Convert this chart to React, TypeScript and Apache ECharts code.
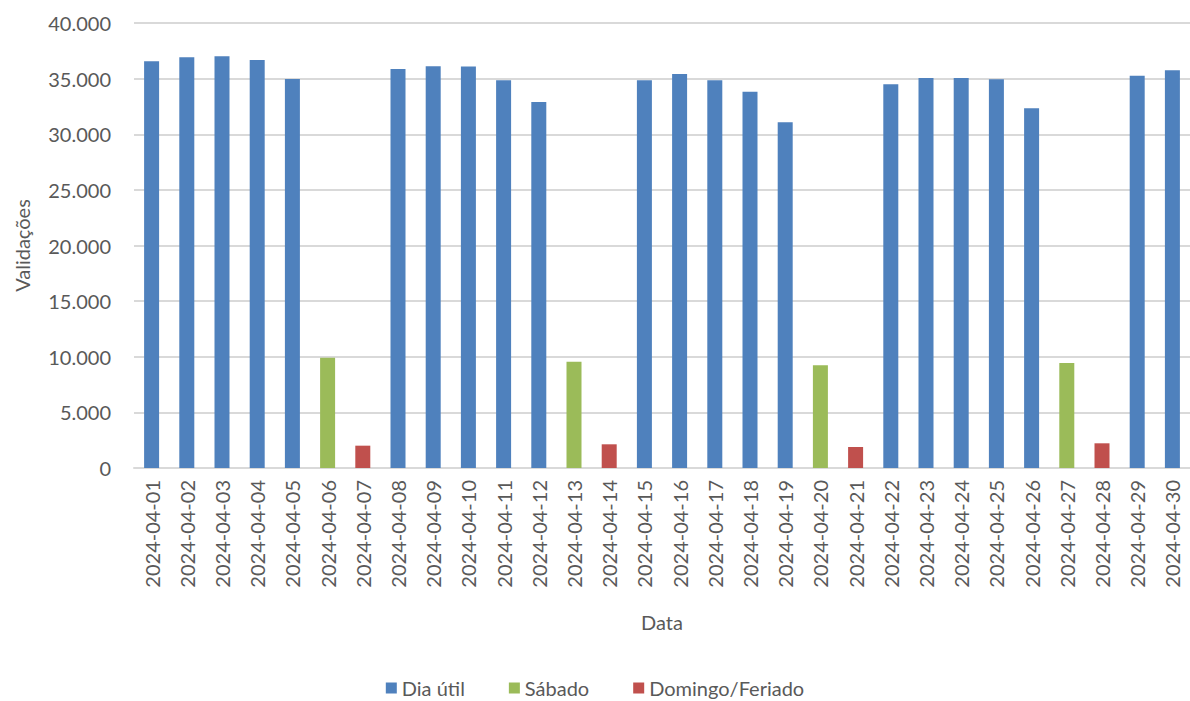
import React, { useEffect, useRef } from "react";
import * as echarts from "echarts";

const dias = [
  "2024-04-01", "2024-04-02", "2024-04-03", "2024-04-04", "2024-04-05", "2024-04-06",
  "2024-04-07", "2024-04-08", "2024-04-09", "2024-04-10", "2024-04-11", "2024-04-12",
  "2024-04-13", "2024-04-14", "2024-04-15", "2024-04-16", "2024-04-17", "2024-04-18",
  "2024-04-19", "2024-04-20", "2024-04-21", "2024-04-22", "2024-04-23", "2024-04-24",
  "2024-04-25", "2024-04-26", "2024-04-27", "2024-04-28", "2024-04-29", "2024-04-30",
];

const diaUtil = [
  36557, 36916, 37006, 36674, 34966, null, null, 35865, 36104, 36090, 34846, 32899,
  null, null, 34846, 35416, 34846, 33828, 31070, null, null, 34487, 35056, 35056,
  34936, 32330, null, null, 35266, 35745,
];

const sabado = [
  null, null, null, null, null, 9915, null, null, null, null, null, null,
  9555, null, null, null, null, null, null, 9230, null, null, null, null,
  null, null, 9438, null, null, null,
];

const domingoFeriado = [
  null, null, null, null, null, null, 2007, null, null, null, null, null,
  null, 2130, null, null, null, null, null, null, 1888, null, null, null,
  null, null, null, 2220, null, null,
];

const FONT = "Lato, 'Noto Sans', sans-serif";
const TXT = "#595959";

function fmt(v: number) {
  return String(v).replace(/\B(?=(\d{3})+(?!\d))/g, ".");
}

export default function App() {
  const ref = useRef<HTMLDivElement>(null);
  useEffect(() => {
    if (!ref.current) return;
    const chart = echarts.init(ref.current, undefined, { renderer: "svg" });
    const barCommon = { type: "bar", stack: "t", barWidth: 15 };
    chart.setOption({
      animation: false,
      textStyle: { fontFamily: FONT },
      grid: { left: 134, right: -5, top: 23, bottom: 233 },
      legend: {
        bottom: -2,
        left: "center",
        icon: "rect",
        itemWidth: 11,
        itemHeight: 11,
        itemGap: 44,
        textStyle: { color: TXT, fontSize: 20, fontFamily: FONT },
        data: ["Dia útil", "Sábado", "Domingo/Feriado"],
      },
      xAxis: {
        type: "category",
        data: dias,
        name: "Data",
        nameLocation: "middle",
        nameGap: 144,
        nameTextStyle: { color: TXT, fontSize: 20, fontFamily: FONT },
        axisLine: { show: true, lineStyle: { color: "#d9d9d9", width: 2 } },
        axisTick: { show: false },
        axisLabel: {
          rotate: 90,
          interval: 0,
          margin: 12,
          color: TXT,
          fontSize: 20,
          fontFamily: FONT,
        },
      },
      yAxis: {
        type: "value",
        min: 0,
        max: 40000,
        interval: 5000,
        name: "Validações",
        nameLocation: "middle",
        nameGap: 102,
        nameTextStyle: { color: TXT, fontSize: 20, fontFamily: FONT },
        axisLine: { show: false },
        axisTick: { show: false },
        splitLine: { lineStyle: { color: "#d9d9d9", width: 2 } },
        axisLabel: {
          margin: 23,
          color: TXT,
          fontSize: 20,
          fontFamily: FONT,
          formatter: (v: number) => fmt(v),
        },
      },
      series: [
        { ...barCommon, name: "Dia útil", data: diaUtil, itemStyle: { color: "#4f81bd" } },
        { ...barCommon, name: "Sábado", data: sabado, itemStyle: { color: "#9bbb59" } },
        { ...barCommon, name: "Domingo/Feriado", data: domingoFeriado, itemStyle: { color: "#c0504d" } },
      ],
    });
    return () => chart.dispose();
  }, []);
  return (
    <div
      ref={ref}
      style={{ position: "absolute", left: 0, top: 0, width: 1190, height: 701, background: "#fff" }}
    />
  );
}
